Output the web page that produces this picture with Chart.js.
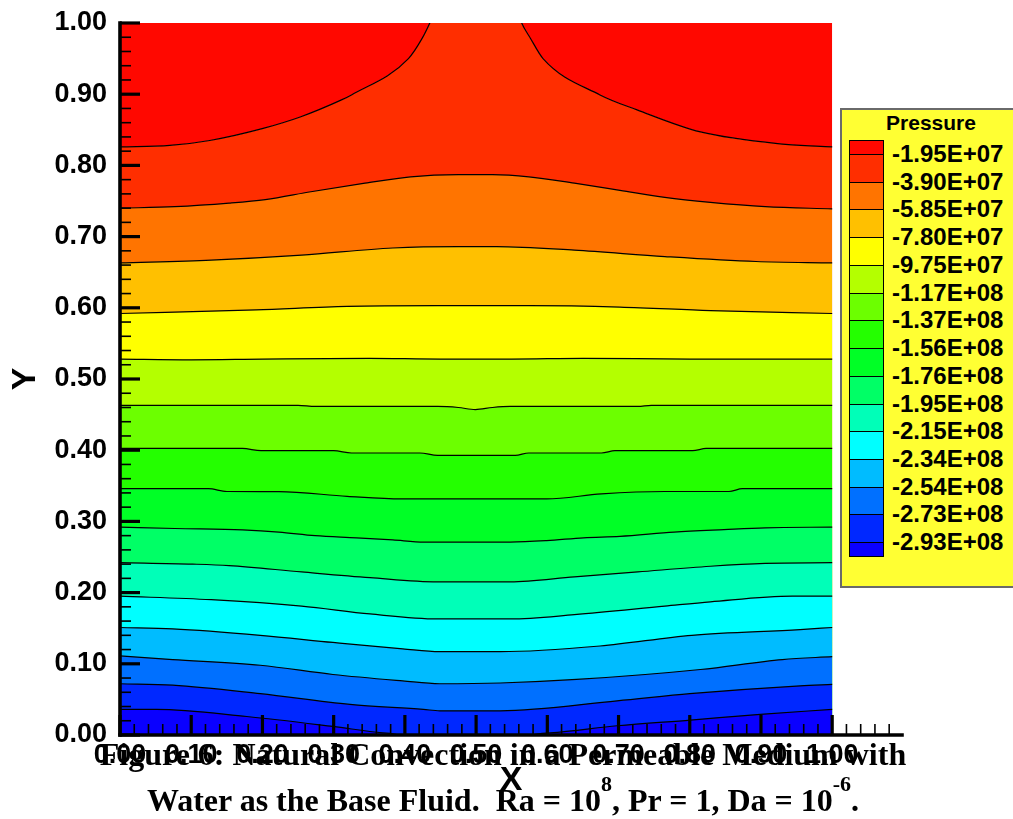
<!DOCTYPE html>
<html>
<head>
<meta charset="utf-8">
<script src="https://cdn.jsdelivr.net/npm/chart.js@4.4.1/dist/chart.umd.min.js"></script>
<style>
  html, body { margin: 0; padding: 0; background: #fff; }
  #wrap { position: relative; width: 1013px; height: 819px; overflow: hidden; background: #fff; }
  #plot { position: absolute; left: 0; top: 0; }
  #legend { position: absolute; left: 0; top: 0; width: 1013px; height: 819px; pointer-events: none;
            font-family: "Liberation Sans", Arial, sans-serif; font-weight: bold; color: #000; }
  #legendBox { position: absolute; left: 840px; top: 108px; width: 220px; height: 480px;
               background: #ffff33; border: 2px solid #6a6a6a; box-sizing: border-box; }
  #legendTitle { position: absolute; left: 841px; width: 180px; top: 112px; font-size: 21px; line-height: 21px; text-align: center; }
  .sw { position: absolute; left: 849px; width: 35px; box-sizing: border-box; border: 1px solid #000; }
  .lv { position: absolute; left: 892px; font-size: 24px; line-height: 24px; white-space: nowrap; }
  .cap { position: absolute; left: 0; width: 1006px; text-align: center; white-space: nowrap;
         font-family: "Liberation Serif", "Times New Roman", serif; font-weight: bold; font-size: 32px; line-height: 32px; color: #000; }
  .cap sup { font-size: 22px; line-height: 0; vertical-align: 20px; }
</style>
</head>
<body>
<div id="wrap">
  <canvas id="plot" width="1013" height="819"></canvas>
  <div id="legend">
    <div id="legendBox"></div>
    <div id="legendTitle">Pressure</div>
  </div>
  <div class="cap" style="top:738px">Figure 6: Natural Convection in a Permeable Medium with</div>
  <div class="cap" style="top:784px">Water as the Base Fluid.&nbsp; Ra = 10<sup>8</sup>, Pr = 1, Da = 10<sup>-6</sup>.</div>
</div>
<script>
// Pressure contour levels (legend labels, top to bottom)
const pressureLevels = ['-1.95E+07', '-3.90E+07', '-5.85E+07', '-7.80E+07', '-9.75E+07',
  '-1.17E+08', '-1.37E+08', '-1.56E+08', '-1.76E+08', '-1.95E+08',
  '-2.15E+08', '-2.34E+08', '-2.54E+08', '-2.73E+08', '-2.93E+08'];

// Axis tick values
const xTicks = [0, 0.1, 0.2, 0.3, 0.4, 0.5, 0.6, 0.7, 0.8, 0.9, 1.0];
const yTicks = [0, 0.1, 0.2, 0.3, 0.4, 0.5, 0.6, 0.7, 0.8, 0.9, 1.0];

// Isobar traces [X, Y], one per contour level (points past the walls are clipped)
const isobar01 = [[0, .826], [.07, .828], [.126, .835], [.201, .852], [.253, .868], [.311, .892], [.325, .899],
  [.405, .950], [.424, .978], [.435, 1], [.44, 1.012], [.56, 1.012], [.564, 1], [.576, .979], [.594, .950],
  [.674, .899], [.726, .878], [.815, .847], [.93, .830], [1, .826]];
const isobar02 = [[0, .740], [.077, .742], [.153, .747], [.204, .752], [.268, .763], [.344, .775], [.408, .784],
  [.475, .787], [.523, .787], [.574, .784], [.638, .775], [.702, .765], [.765, .755], [.829, .748], [.906, .742], [1, .739]];
const isobar03 = [[0, .663], [.128, .667], [.255, .674], [.383, .684], [.475, .686], [.529, .686], [.638, .681],
  [.765, .672], [.893, .665], [1, .663]];
const isobar04 = [[0, .592], [.191, .597], [.319, .602], [.446, .603], [.574, .603], [.702, .601], [.829, .596], [1, .592]];
const isobar05 = [[0, .528], [.1, .527], [.2, .528], [.35, .529], [.45, .528], [.55, .528], [.65, .529], [.8, .528], [1, .528]];
const isobar06 = [[0, .463], [.25, .463], [.274, .4615], [.446, .4615], [.475, .460], [.499, .457], [.523, .460],
  [.548, .4615], [.727, .4615], [.746, .463], [1, .463]];
const isobar07 = [[0, .4025], [.172, .4025], [.198, .3993], [.300, .3993], [.325, .3961], [.421, .3961], [.446, .3927],
  [.555, .3927], [.574, .3961], [.676, .3961], [.695, .3993], [.804, .3993], [.823, .4025], [1, .4025]];
const isobar08 = [[0, .346], [.124, .346], [.150, .342], [.223, .3418], [.319, .3352], [.395, .3316], [.599, .3316],
  [.676, .3386], [.765, .342], [.855, .342], [.874, .346], [1, .346]];
const isobar09 = [[0, .292], [.077, .290], [.172, .288], [.223, .285], [.274, .280], [.332, .277], [.383, .274],
  [.427, .271], [.548, .271], [.599, .273], [.651, .277], [.702, .279], [.778, .285], [.848, .2885], [.906, .291], [1, .292]];
const isobar10 = [[0, .242], [.102, .240], [.153, .238], [.255, .229], [.351, .221], [.446, .215], [.548, .215],
  [.638, .222], [.727, .229], [.829, .237], [.906, .241], [1, .242]];
const isobar11 = [[0, .195], [.128, .190], [.255, .181], [.351, .170], [.446, .163], [.548, .163], [.638, .169],
  [.765, .181], [.829, .187], [.944, .195], [1, .195]];
const isobar12 = [[0, .151], [.074, .149], [.197, .140], [.299, .130], [.397, .121], [.449, .117], [.534, .117],
  [.674, .125], [.803, .140], [.955, .148], [1, .151]];
const isobar13 = [[0, .111], [.074, .106], [.197, .098], [.299, .085], [.397, .076], [.449, .072], [.534, .073],
  [.641, .078], [.815, .092], [.93, .106], [1, .110]];
const isobar14 = [[0, .072], [.074, .070], [.197, .058], [.323, .043], [.426, .036], [.449, .034], [.534, .034],
  [.698, .048], [.80, .058], [.955, .069], [1, .071]];
const isobar15 = [[0, .036], [.051, .036], [.178, .026], [.299, .012], [.369, .003], [.39, 0], [.40, -.012],
  [.57, -.012], [.58, 0], [.604, .003], [.698, .013], [.801, .021], [.899, .029], [1, .036]];

const isobars = [isobar01, isobar02, isobar03, isobar04, isobar05, isobar06, isobar07, isobar08,
  isobar09, isobar10, isobar11, isobar12, isobar13, isobar14, isobar15];

// Flood colours, highest pressure band first
const bandColours = ['#ff0800', '#ff2e00', '#ff7400', '#ffc000', '#ffff00', '#b4ff00', '#6cff00', '#24ff00',
  '#00ff26', '#00ff66', '#00ffb8', '#00ffff', '#00bcff', '#0070ff', '#0028ff', '#0a00ff'];

const xAxisEnd = 1.098;
const FONT = "'Liberation Sans', Arial, sans-serif";

const toPts = arr => arr.map(([x, y]) => ({ x, y }));

const datasets = [];
// region above the first isobar
datasets.push({
  label: 'above ' + pressureLevels[0], data: toPts(isobar01), fill: 'end',
  backgroundColor: bandColours[0], borderWidth: 0, pointRadius: 0,
  cubicInterpolationMode: 'monotone', order: 40
});
isobars.forEach((line, i) => {
  datasets.push({
    label: pressureLevels[i], data: toPts(line), fill: 'start',
    backgroundColor: bandColours[i + 1], borderColor: '#000', borderWidth: 1.2,
    pointRadius: 0, cubicInterpolationMode: 'monotone', order: 20 - i
  });
});

// Inward tick marks and heavy axis lines
const axisFrame = {
  id: 'axisFrame',
  afterDatasetsDraw(chart) {
    const { ctx, scales: { x, y } } = chart;
    const xb = y.getPixelForValue(0), yt = y.getPixelForValue(1);
    const xl = x.getPixelForValue(0), xr = x.getPixelForValue(xAxisEnd);
    const seg = (a, b, c, d) => { ctx.beginPath(); ctx.moveTo(a, b); ctx.lineTo(c, d); ctx.stroke(); };
    ctx.save();
    ctx.strokeStyle = '#000';
    ctx.lineCap = 'butt';
    ctx.lineWidth = 1.6;
    for (let k = 1; k <= 54; k++) {
      if (k % 5 === 0) continue;
      const px = x.getPixelForValue(k * 0.02);
      seg(px, xb, px, xb - 11);
    }
    for (let k = 1; k <= 50; k++) {
      if (k % 5 === 0) continue;
      const py = y.getPixelForValue(k * 0.02);
      seg(xl, py, xl + 11, py);
    }
    ctx.lineWidth = 3.2;
    xTicks.forEach(v => { const px = x.getPixelForValue(v); seg(px, xb, px, xb - 20); });
    yTicks.forEach(v => { const py = y.getPixelForValue(v); seg(xl, py, xl + 20, py); });
    ctx.lineWidth = 3.6;
    ctx.lineCap = 'square';
    seg(xl, xb, xr, xb);
    seg(xl, xb, xl, yt);
    ctx.restore();
  }
};

new Chart(document.getElementById('plot'), {
  type: 'line',
  data: { datasets },
  plugins: [axisFrame],
  options: {
    responsive: false,
    animation: false,
    events: [],
    layout: { padding: { left: 0, top: 23, right: 111, bottom: 0 } },
    plugins: { legend: { display: false }, tooltip: { enabled: false } },
    scales: {
      x: {
        type: 'linear', min: 0, max: xAxisEnd, position: 'bottom',
        grid: { display: false, drawTicks: false }, border: { display: false },
        afterBuildTicks: s => { s.ticks = xTicks.map(value => ({ value })); },
        afterFit: s => { s.height = 84; s.paddingLeft = 0; s.paddingRight = 0; },
        ticks: {
          autoSkip: false, maxRotation: 0, padding: 4, color: '#000',
          font: { family: FONT, size: 27, weight: 'bold' },
          callback: v => v.toFixed(2)
        },
        title: { display: true, text: 'X', color: '#000', padding: { top: 0, bottom: 18 },
          font: { family: FONT, size: 34, weight: 'bold' } }
      },
      y: {
        type: 'linear', min: 0, max: 1, position: 'left',
        grid: { display: false, drawTicks: false }, border: { display: false },
        afterBuildTicks: s => { s.ticks = yTicks.map(value => ({ value })); },
        afterFit: s => { s.width = 120; s.paddingTop = 0; s.paddingBottom = 0; },
        ticks: {
          autoSkip: false, padding: 13, color: '#000',
          font: { family: FONT, size: 27, weight: 'bold' },
          callback: v => v.toFixed(2)
        },
        title: { display: true, text: 'Y', color: '#000', padding: { top: 5, bottom: 0 },
          font: { family: FONT, size: 34, weight: 'bold' } }
      }
    }
  }
});

// Colour key: half-height end swatches, full swatches between levels
(function buildKey() {
  const host = document.getElementById('legend');
  const top = 140, first = 154, step = 27.73;
  const last = first + step * (pressureLevels.length - 1);
  const edges = [top];
  pressureLevels.forEach((_, i) => edges.push(first + step * i));
  edges.push(last + 14);
  bandColours.forEach((c, i) => {
    const d = document.createElement('div');
    d.className = 'sw';
    d.style.top = edges[i] + 'px';
    d.style.height = (edges[i + 1] - edges[i] + 1) + 'px';
    d.style.background = c;
    host.appendChild(d);
  });
  pressureLevels.forEach((t, i) => {
    const d = document.createElement('div');
    d.className = 'lv';
    d.style.top = (first + step * i - 12) + 'px';
    d.textContent = t;
    host.appendChild(d);
  });
})();
</script>
</body>
</html>
